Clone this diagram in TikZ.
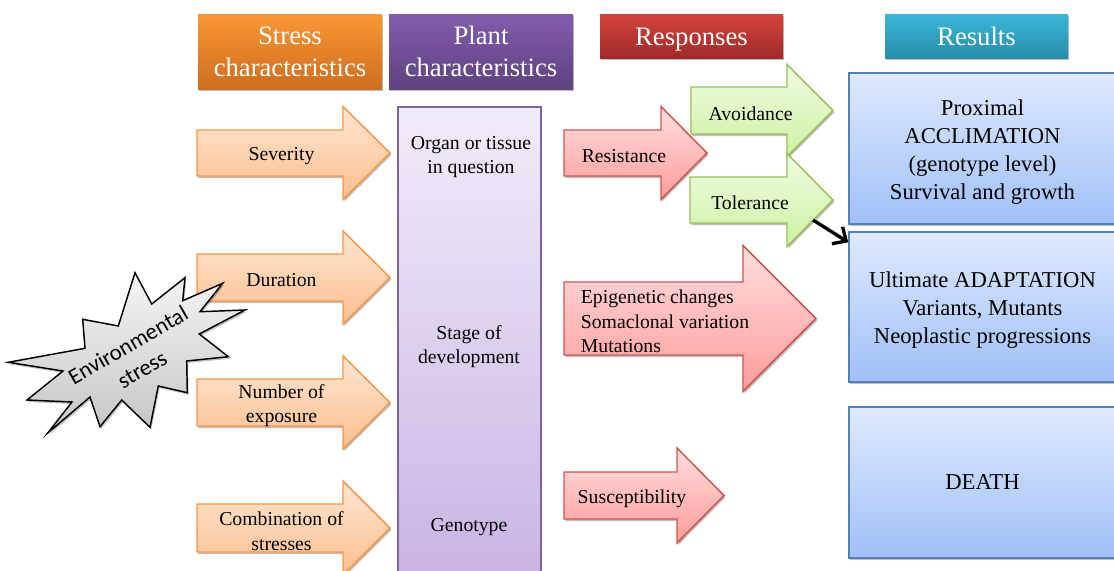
\documentclass[tikz,border=0pt]{standalone}
\usepackage{fontspec}
\setmainfont{Liberation Serif}
\newfontfamily\starfont{Carlito}
\usetikzlibrary{arrows.meta,shadows,calc}

\definecolor{stresstop}{RGB}{250,150,52}
\definecolor{stressbot}{RGB}{205,110,32}
\definecolor{planttop}{RGB}{130,92,172}
\definecolor{plantbot}{RGB}{94,66,128}
\definecolor{resptop}{RGB}{212,68,62}
\definecolor{respbot}{RGB}{160,42,40}
\definecolor{resulttop}{RGB}{60,182,216}
\definecolor{resultbot}{RGB}{40,140,170}
\definecolor{orangetop}{RGB}{254,230,210}
\definecolor{orangebot}{RGB}{251,190,142}
\definecolor{orangeline}{RGB}{247,150,70}
\definecolor{redtop}{RGB}{255,222,222}
\definecolor{redbot}{RGB}{255,155,155}
\definecolor{redline}{RGB}{205,85,80}
\definecolor{greentop}{RGB}{240,252,225}
\definecolor{greenbot}{RGB}{204,242,164}
\definecolor{greenline}{RGB}{155,190,90}
\definecolor{bluetop}{RGB}{222,233,253}
\definecolor{bluebot}{RGB}{160,192,248}
\definecolor{blueline}{RGB}{79,129,189}
\definecolor{lilactop}{RGB}{241,236,250}
\definecolor{lilacbot}{RGB}{200,180,228}
\definecolor{lilacline}{RGB}{128,100,162}

\tikzset{
    softshadow/.style={drop shadow={shadow xshift=1pt, shadow yshift=-1.5pt, opacity=0.25, fill=black}},
    }

% tail x, neck x, tip x, middle y, half shaft, half head
\newcommand{\fatarrow}[9]{%
  \path[#1] (#3,#6-#7) -- (#4,#6-#7) -- (#4,#6-#8) -- (#5,#6)
    -- (#4,#6+#8) -- (#4,#6+#7) -- (#3,#6+#7) -- cycle;
  \node[arrowtext] (#2) at ({(#3+#4)/2+11.5},#6+3) {#9};}

\begin{document}
\begin{tikzpicture}[
x=0.75pt, y=-0.75pt,
headbox/.style={text=white, font=\fontsize{20}{24}\selectfont, align=center, inner sep=0pt, softshadow},
orangearrow/.style={draw=orangeline, line width=1.1pt, top color=orangetop, bottom color=orangebot, softshadow},
redarrow/.style={draw=redline, line width=1.1pt, top color=redtop, bottom color=redbot, softshadow},
greenarrow/.style={draw=greenline, line width=1.1pt, top color=greentop, bottom color=greenbot, softshadow},
arrowtext/.style={font=\fontsize{14.8}{18.3}\selectfont, align=center, inner sep=0pt},
resultbox/.style={draw=blueline, line width=1.1pt, top color=bluetop, bottom color=bluebot, minimum width=214.5pt, softshadow},
resulttext/.style={font=\fontsize{17}{21}\selectfont, align=center, inner sep=0pt},
startext/.style={font=\starfont\fontsize{17}{21}\selectfont, align=center, inner sep=0pt},
]
\useasboundingbox (0,0) rectangle (1114,571);
\clip (0,0) rectangle (1114,571);

% column headers
\node[headbox, top color=stresstop, bottom color=stressbot, minimum width=138pt, minimum height=56.25pt] (stresshead) at (290,51.5) {Stress\\characteristics};
\node[headbox, top color=planttop, bottom color=plantbot, minimum width=138pt, minimum height=56.25pt] (planthead) at (481,51.5) {Plant\\characteristics};
\node[headbox, top color=resptop, bottom color=respbot, minimum width=137.25pt, minimum height=33pt, text height=15pt, text depth=1.5pt] (resphead) at (691.5,36) {Responses};
\node[headbox, top color=resulttop, bottom color=resultbot, minimum width=137.25pt, minimum height=33pt, text height=15pt, text depth=1.5pt] (resulthead) at (976.5,36) {Results};

% plant column
\node[draw=lilacline, line width=1.1pt, top color=lilactop, bottom color=lilacbot, minimum width=107.25pt, minimum height=354.75pt, softshadow] (plantcol) at (469.5,343.5) {};
\node[arrowtext] (organ) at (471,157) {Organ or tissue\\in question};
\node[arrowtext] (stage) at (469,346.5) {Stage of\\development};
\node[arrowtext] (genotype) at (469,527) {Genotype};

% stress arrows
\fatarrow{orangearrow}{severity}{197}{343}{390}{153}{23}{46.5}{Severity}
\fatarrow{orangearrow}{duration}{197}{343}{390}{277.5}{23.5}{46.5}{Duration}
\fatarrow{orangearrow}{exposure}{197}{343}{390}{402.5}{23.5}{46.5}{Number of\\exposure}
\fatarrow{orangearrow}{combination}{197}{343}{390}{528}{24}{47}{Combination of\\stresses}

% environmental stress
\path[draw=black, line width=1.1pt, top color=gray!8, bottom color=gray!45, softshadow]
  (8.3,362.3) -- (85,348.3) -- (82.7,319.3) -- (118.3,326) -- (135,272.7) -- (151.7,304)
  -- (185,277.7) -- (182.7,300.7) -- (222.7,283.3) -- (200,311.7) -- (245,310) -- (199.3,334)
  -- (228.3,356.7) -- (186.7,361) -- (187.3,392.7) -- (158.3,386) -- (150,427.3) -- (121.7,400)
  -- (100,426.7) -- (90,397) -- (47.7,433) -- (72,402) -- (27,400) -- (63,371) -- cycle;
\node[startext, rotate=30] (envstress) at (135,357) {Environmental\\stress};

% responses
\fatarrow{redarrow}{resistance}{564}{661}{707}{153}{23}{46.5}{Resistance}
\fatarrow{greenarrow}{avoidance}{691}{787}{833}{110.5}{23.5}{46}{Avoidance}
\fatarrow{greenarrow}{tolerance}{690}{787}{833}{200}{23}{46.5}{Tolerance}
\begin{scope}[arrowtext/.append style={align=left}]
\fatarrow{redarrow}{epigenetic}{564}{743}{816}{318.5}{36.5}{73}{Epigenetic changes\\Somaclonal variation\\Mutations}
\end{scope}
\fatarrow{redarrow}{susceptibility}{564}{677}{724}{495.5}{23.5}{47.5}{Susceptibility}

% results
\node[resultbox, minimum height=113.25pt] (acclimbox) at (992,148.5) {};
\node[resultbox, minimum height=112.5pt] (adaptbox) at (992,307) {};
\node[resultbox, minimum height=113.25pt] (deathbox) at (992,482.5) {};
\node[resulttext] (acclim) at (982.5,152) {Proximal\\ACCLIMATION\\(genotype level)\\Survival and growth};
\node[resulttext] (adapt) at (982.5,310) {Ultimate ADAPTATION\\Variants, Mutants\\Neoplastic progressions};
\node[resulttext] (death) at (982.5,482.5) {DEATH};

\coordinate (tol-edge) at (813,220);
\draw[line width=2.5pt, -{Straight Barb[length=8pt, width=15pt]}] (tol-edge) -- ($(adaptbox.north west)+(0,11)$);
\end{tikzpicture}
\end{document}
